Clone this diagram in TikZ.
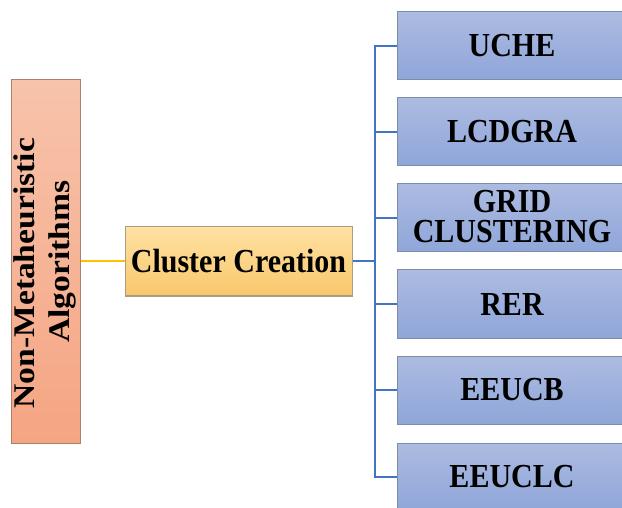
\documentclass[tikz,border=0pt]{standalone}
\usepackage{fontspec}
\setmainfont{Liberation Serif}
\usepackage{graphicx}
\definecolor{salTop}{HTML}{F7C3AB}
\definecolor{salBot}{HTML}{F5A582}
\definecolor{salLine}{HTML}{A8826F}
\definecolor{ylTop}{HTML}{FFE1A2}
\definecolor{ylBot}{HTML}{F8C76B}
\definecolor{ylLine}{HTML}{A99E84}
\definecolor{blTop}{HTML}{ACBBE1}
\definecolor{blBot}{HTML}{8FA6D9}
\definecolor{blLine}{HTML}{7E8DA6}
\definecolor{connBlue}{HTML}{4472C4}
\definecolor{connYel}{HTML}{FFC000}
\newcommand{\vst}[1]{\scalebox{1}[1.12]{#1}}
\begin{document}
\begin{tikzpicture}[x=1pt,y=-1pt,
  txt/.style={font=\fontsize{30}{28}\selectfont\bfseries, text=black, inner sep=0pt, align=center},
  leftbox/.style={draw=salLine, line width=1pt, top color=salTop, bottom color=salBot, minimum width=69pt, minimum height=363pt, inner sep=0pt},
  midbox/.style={draw=ylLine, line width=1pt, top color=ylTop, bottom color=ylBot, minimum width=227pt, minimum height=69pt, inner sep=0pt},
  rbox/.style={draw=blLine, line width=1pt, top color=blTop, bottom color=blBot, minimum width=230pt, minimum height=68pt, inner sep=0pt},
  bconn/.style={draw=connBlue, line width=2pt},
  yconn/.style={draw=connYel, line width=2pt}]
\useasboundingbox (0,0) rectangle (622,508);
\clip (0,0) rectangle (622,508);
% boxes
\node[leftbox] (nm) at (45.5,261.5) {};
\node[txt, rotate=90] (nmtxt) at (45.5,261.5) {\scalebox{1.12}[1]{\begin{tabular}{@{}c@{}}Non-Metaheuristic\hspace*{21pt}\\[6pt]Algorithms\end{tabular}}};
\node[midbox] (cc) at (238.5,261.5) {};
\node[txt] (cctxt) at (238.5,261.5) {\vst{Cluster Creation}};
\node[rbox] (b1) at (512,46) {};
\node[rbox] (b2) at (512,132) {};
\node[rbox] (b3) at (512,218) {};
\node[rbox] (b4) at (512,304) {};
\node[rbox] (b5) at (512,390) {};
\node[rbox] (b6) at (512,477) {};
\node[txt] (t1) at (512,46) {\vst{UCHE}};
\node[txt] (t2) at (512,132) {\vst{LCDGRA}};
\node[txt] (t3) at (512,221) {\vst{\begin{tabular}{@{}c@{}}GRID\\[-1pt]CLUSTERING\end{tabular}}};
\node[txt] (t4) at (512,304) {\vst{RER}};
\node[txt] (t5) at (512,390) {\vst{EEUCB}};
\node[txt] (t6) at (512,477) {\vst{EEUCLC}};
% connectors
\coordinate (sp) at (375,262);
\draw[yconn] (nm.east |- cc.west) -- (cc.west);
\draw[bconn] (cc.east) -- (cc.east -| sp);
\draw[bconn] (b1.west) -- (b1.west -| sp) -- (b6.west -| sp) -- (b6.west);
\draw[bconn] (b2.west) -- (b2.west -| sp);
\draw[bconn] (b3.west) -- (b3.west -| sp);
\draw[bconn] (b4.west) -- (b4.west -| sp);
\draw[bconn] (b5.west) -- (b5.west -| sp);
\end{tikzpicture}
\end{document}
